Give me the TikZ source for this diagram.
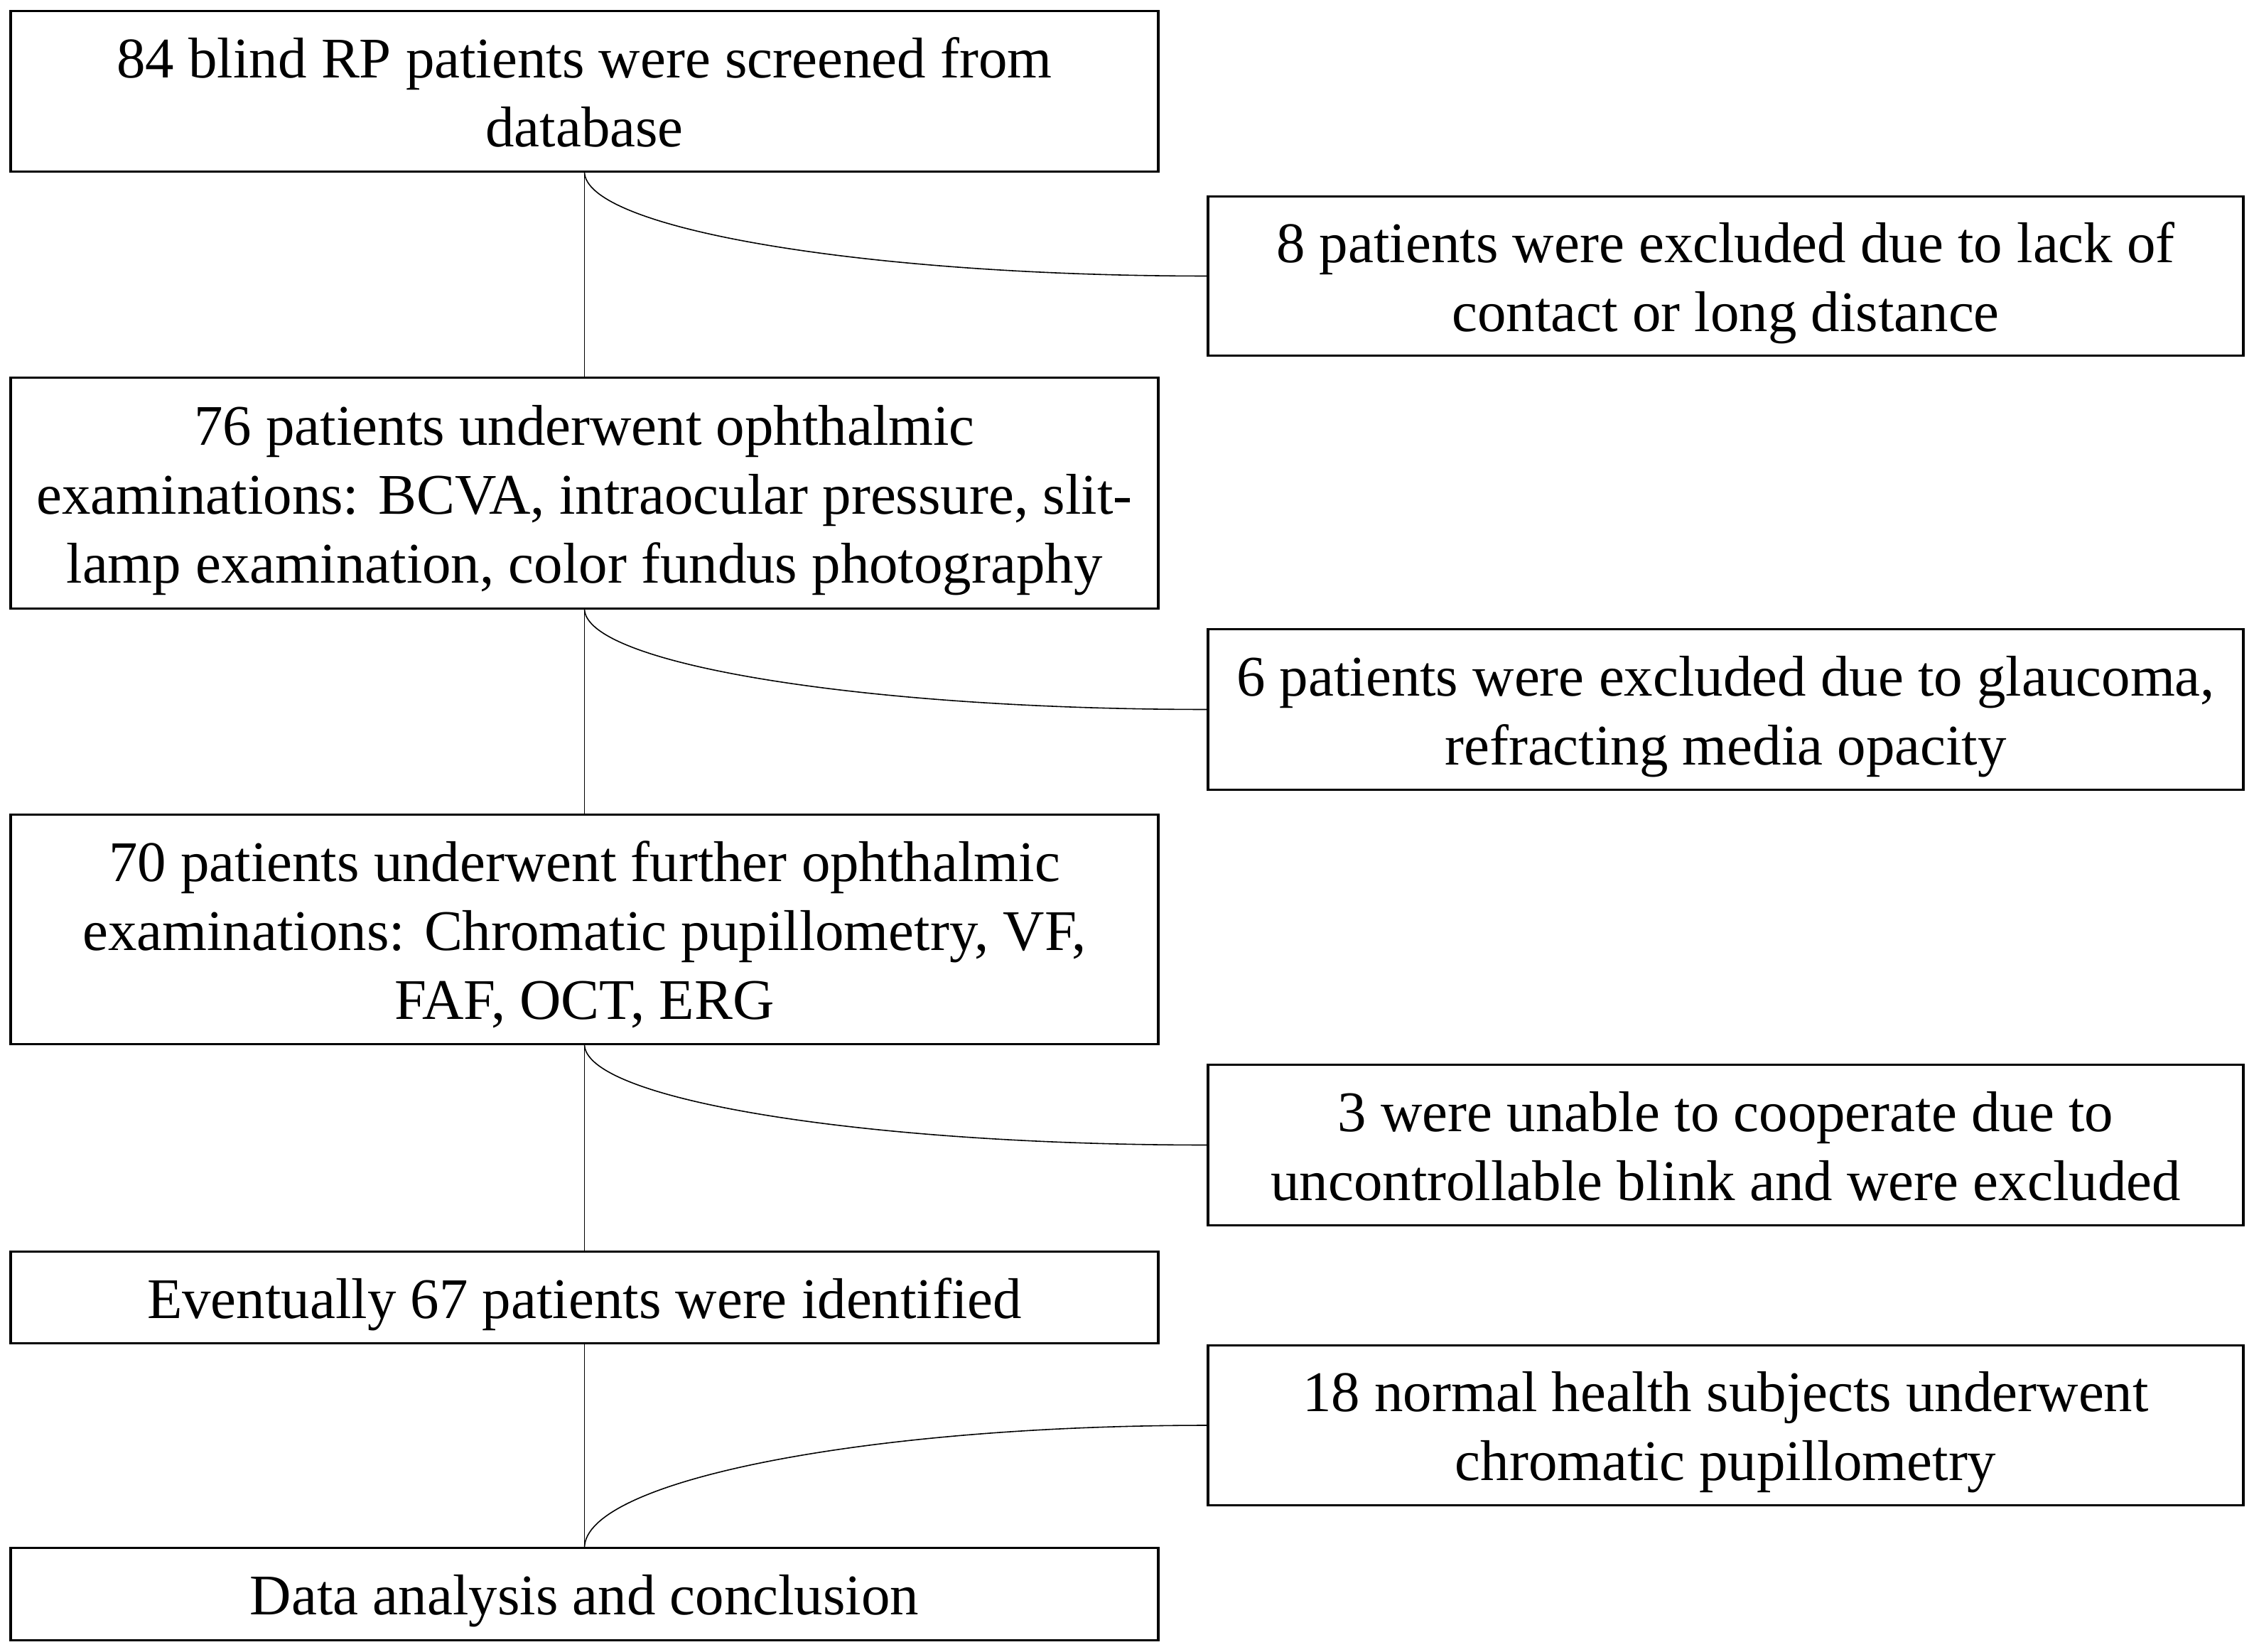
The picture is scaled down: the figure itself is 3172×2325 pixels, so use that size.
\documentclass[tikz,border=0pt]{standalone}
\usepackage{fontspec}
\setmainfont{Liberation Serif}
\newcommand{\bxt}[1]{\raisebox{-0.1cm}[\height][\depth]{\begin{tabular}{@{}c@{}}#1\end{tabular}}}
\tikzset{
  box/.style={draw, line width=1pt, inner sep=0pt, outer sep=0pt, align=center,
    font=\fontsize{23}{27.6}\selectfont},
  lbox/.style={box, minimum width=16.14cm},
  rbox/.style={box, minimum width=14.56cm},
  conn/.style={line width=0.45pt}
}
\begin{document}
\begin{tikzpicture}[x=0.01cm, y=-0.01cm]
\useasboundingbox (0,0) rectangle (3172,2325);
\node[lbox, minimum height=2.26cm] (b1) at (822.5,128.5) {\bxt{84 blind RP patients were screened from\\database}};
\node[rbox, minimum height=2.24cm] (r1) at (2428.5,388.5) {\bxt{8 patients were excluded due to lack of\\contact or long distance}};
\node[lbox, minimum height=3.25cm] (b2) at (822.5,694) {\bxt{76 patients underwent ophthalmic\\examinations: BCVA, intraocular pressure, slit-\\lamp examination, color fundus photography}};
\node[rbox, minimum height=2.26cm] (r2) at (2428.5,998.5) {\bxt{6 patients were excluded due to glaucoma,\\refracting media opacity}};
\node[lbox, minimum height=3.23cm] (b3) at (822.5,1308) {\bxt{70 patients underwent further ophthalmic\\examinations: Chromatic pupillometry, VF,\\FAF, OCT, ERG}};
\node[rbox, minimum height=2.26cm] (r3) at (2428.5,1611.5) {\bxt{3 were unable to cooperate due to\\uncontrollable blink and were excluded}};
\node[lbox, minimum height=1.29cm] (b4) at (822.5,1826) {\bxt{Eventually 67 patients were identified}};
\node[rbox, minimum height=2.25cm] (r4) at (2428.5,2006) {\bxt{18 normal health subjects underwent\\chromatic pupillometry}};
\node[lbox, minimum height=1.30cm] (b5) at (822.5,2243.5) {\bxt{Data analysis and conclusion}};
\draw[conn] (b1.south) -- (b2.north);
\draw[conn] (b2.south) -- (b3.north);
\draw[conn] (b3.south) -- (b4.north);
\draw[conn] (b4.south) -- (b5.north);
\draw[conn] (b1.south) .. controls +(0,80) and +(-484,0) .. (r1.west);
\draw[conn] (b2.south) .. controls +(0,78) and +(-484,0) .. (r2.west);
\draw[conn] (b3.south) .. controls +(0,78) and +(-484,0) .. (r3.west);
\draw[conn] (b5.north) .. controls +(0,-94) and +(-484,0) .. (r4.west);
\end{tikzpicture}
\end{document}
